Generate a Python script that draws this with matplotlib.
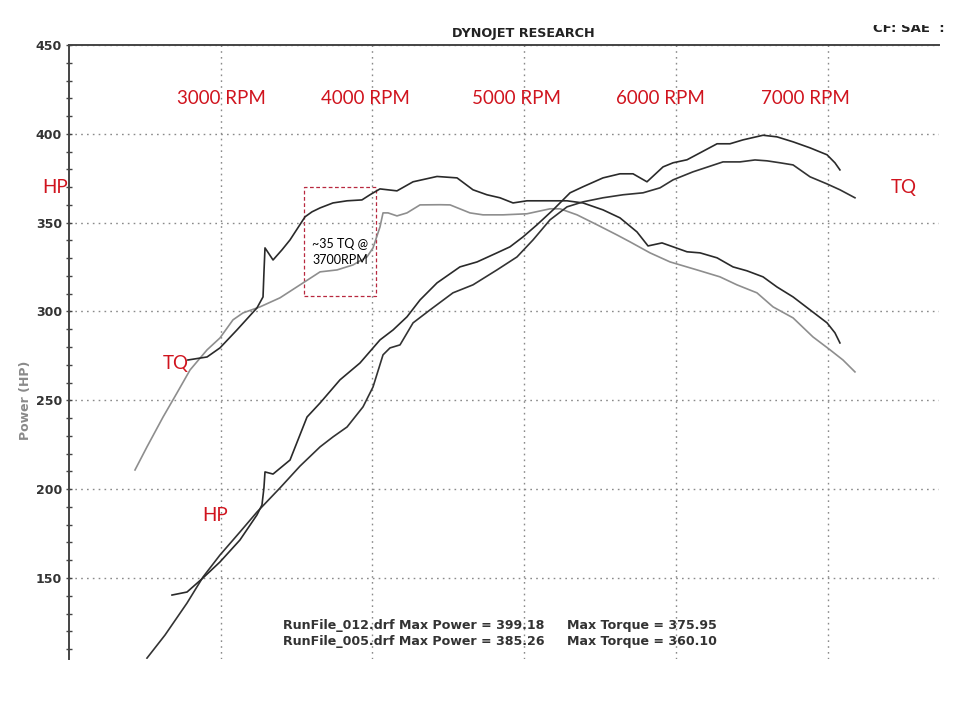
import numpy as np
import matplotlib
matplotlib.use('Agg')
from matplotlib import pyplot as plt
from matplotlib.patches import Rectangle
from matplotlib.transforms import Bbox, TransformedBbox

plt.rcParams.update({
  "font.family": 'DejaVu Sans',
  "axes.linewidth": 1.4,
  "axes.edgecolor": '#444444',
})

# RunFile_012 (black) torque
rpm_tq_012 = [2784, 2910, 2995, 3107, 3239, 3279, 3285, 3292, 3345, 3404, 3457, 3556,
              3602, 3655, 3740, 3833, 3931, 3984, 4050, 4162, 4268, 4426, 4558, 4663,
              4755, 4841, 4927, 5019, 5151, 5283, 5388, 5520, 5632, 5744, 5817, 5909,
              5982, 6074, 6160, 6272, 6377, 6469, 6575, 6667, 6773, 6885, 6997, 7049, 7082]
tq_012 = [272.7, 274.4, 279.5, 289.6, 302.0, 308.2, 321.7, 335.8, 329.0, 334.7, 340.3, 353.3,
          356.1, 358.3, 361.1, 362.3, 362.8, 365.7, 369.0, 367.9, 373.0, 376.0, 375.2, 368.5,
          365.7, 364.0, 361.1, 362.3, 362.3, 362.3, 361.1, 357.2, 352.7, 344.8, 336.9, 338.6,
          336.4, 333.6, 333.0, 330.2, 325.1, 322.9, 319.5, 313.8, 308.2, 300.9, 293.6, 288.0, 282.3]

# RunFile_005 (grey) torque
rpm_tq_005 = [2435, 2514, 2620, 2712, 2798, 2910, 2995, 3081, 3147, 3259, 3391, 3543,
              3655, 3767, 3872, 3964, 4004, 4050, 4070, 4103, 4162, 4228, 4314, 4446,
              4512, 4643, 4729, 4861, 5019, 5171, 5237, 5349, 5481, 5612, 5698, 5830,
              5962, 6140, 6291, 6403, 6535, 6641, 6773, 6904, 7017, 7102, 7181]
tq_005 = [210.8, 223.8, 240.6, 254.2, 267.1, 278.4, 285.1, 295.3, 299.2, 302.6, 307.7, 316.1,
          322.3, 323.4, 326.2, 330.7, 335.8, 347.6, 355.5, 355.5, 353.8, 355.5, 360.0, 360.1,
          360.0, 355.5, 354.4, 354.4, 355.0, 357.8, 357.8, 354.4, 348.8, 343.1, 339.2, 333.0,
          327.9, 323.4, 319.5, 315.0, 310.5, 302.6, 296.4, 285.7, 278.4, 272.7, 266.0]

# RunFile_012 power
rpm_hp_012 = [2679, 2778, 2883, 2995, 3127, 3239, 3272, 3285, 3292, 3345, 3457, 3569,
              3655, 3786, 3918, 4050, 4136, 4228, 4314, 4426, 4577, 4690, 4821, 4907,
              4993, 5085, 5191, 5303, 5388, 5520, 5632, 5718, 5810, 5916, 5982, 6074,
              6160, 6272, 6357, 6443, 6575, 6667, 6773, 6885, 6997, 7049, 7082]
hp_012 = [140.4, 142.1, 150.0, 159.0, 171.4, 185.5, 191.1, 200.7, 209.7, 208.5, 216.4, 240.6,
          248.5, 261.5, 271.0, 284.0, 289.6, 297.0, 306.5, 316.1, 325.1, 327.9, 333.0, 336.4,
          342.0, 348.8, 357.2, 366.8, 370.2, 375.2, 377.5, 377.5, 373.0, 381.4, 383.7, 385.4,
          389.3, 394.4, 394.4, 396.6, 399.2, 398.3, 395.5, 392.1, 388.2, 383.7, 379.7]

# RunFile_005 power
rpm_hp_005 = [2514, 2633, 2778, 2883, 2995, 3127, 3239, 3391, 3523, 3655, 3740, 3833,
              3938, 4004, 4070, 4116, 4182, 4268, 4380, 4531, 4663, 4821, 4953, 5059,
              5171, 5283, 5388, 5520, 5652, 5784, 5896, 5982, 6113, 6311, 6423, 6522,
              6601, 6687, 6773, 6885, 6997, 7082, 7181]
hp_005 = [104.9, 117.9, 135.9, 150.5, 162.9, 175.9, 187.1, 200.7, 213.0, 223.8, 229.4, 235.0,
          246.3, 257.5, 275.6, 279.5, 281.2, 293.6, 300.9, 310.5, 315.0, 323.4, 330.7, 340.3,
          351.6, 358.9, 361.7, 364.0, 365.7, 366.8, 369.6, 374.1, 378.6, 384.2, 384.2, 385.3,
          384.8, 383.7, 382.5, 375.8, 371.8, 368.5, 364.0]

rpm_marks = ["3000 RPM", "4000 RPM", "5000 RPM", "6000 RPM", "7000 RPM"]
rpm_mark_x = [3005, 3951, 4953, 5902, 6855]

summary_left = ["RunFile_012.drf Max Power = 399.18", "RunFile_005.drf Max Power = 385.26"]
summary_right = ["Max Torque = 375.95", "Max Torque = 360.10"]

red = '#d0141e'

fig = plt.figure(figsize=(9.6, 7.2), dpi=100)
ax = fig.add_axes([69/960, 61/720, 870/960, 614/720])

ax.set_xlim(2000, 7735)
ax.set_ylim(104.4, 450)

for s in ['right', 'bottom']:
    ax.spines[s].set_visible(False)

ax.set_yticks(np.arange(150, 451, 50))
ax.set_yticks(np.arange(110, 451, 10), minor=True)
ax.set_xticks(np.arange(3000, 7001, 1000))
ax.tick_params(axis='x', length=0, labelbottom=False)
ax.tick_params(axis='y', which='both', direction='inout', length=5, width=1,
               color='#444444', pad=2.5)
for lab in ax.get_yticklabels():
    lab.set_fontweight('bold')
    lab.set_fontsize(9)
    lab.set_color('#333333')

ax.grid(True, which='major', linestyle=(0, (1.2, 3)), linewidth=1.0, color='#8a8a8a')

ax.plot(rpm_tq_005, tq_005, color='#8e8e8e', lw=1.2)
ax.plot(rpm_tq_012, tq_012, color='#2a2a2a', lw=1.2)
ax.plot(rpm_hp_005, hp_005, color='#333333', lw=1.2)
ax.plot(rpm_hp_012, hp_012, color='#2a2a2a', lw=1.2)

# red notes
for lab, x in zip(rpm_marks, rpm_mark_x):
    ax.text(x, 419.7, lab, color=red, fontsize=13.5, family='Lato', ha='center', va='center')
ax.text(1911, 369.6, "HP", color=red, fontsize=13.5, family='Lato', ha='center', va='center')
ax.text(7501, 369.6, "TQ", color=red, fontsize=13.5, family='Lato', ha='center', va='center')
ax.text(2702, 271.0, "TQ", color=red, fontsize=13.5, family='Lato', ha='center', va='center')
ax.text(2966, 184.9, "HP", color=red, fontsize=13.5, family='Lato', ha='center', va='center')

ax.add_patch(Rectangle((3549, 308.8), 475, 61.4, fill=False, edgecolor='#b8283f',
                       lw=0.9, linestyle=(0, (3, 2))))
ax.text(3786, 338.1, "~35 TQ @", fontsize=9, family='Lato', ha='center', va='center')
ax.text(3786, 329.0, "3700RPM", fontsize=9, family='Lato', ha='center', va='center')

for i in range(2):
    ax.text(3411, 123.0 - 8.5*i, summary_left[i], fontsize=9.1, fontweight='bold',
            color='#333333', va='center')
    ax.text(5283, 123.0 - 8.5*i, summary_right[i], fontsize=9.1, fontweight='bold',
            color='#333333', va='center')

fig.text(523/960, 1 - 33/720, "DYNOJET RESEARCH", fontsize=9.2, fontweight='bold',
         color='#222222', ha='center', va='center')

cf = fig.text(873/960, 1 - 32/720, "CF: SAE  :", fontsize=9.5, fontweight='bold',
              color='#222222', ha='left', va='baseline')
cf.set_clip_box(TransformedBbox(Bbox([[0, 0], [1, 1 - 25/720]]), fig.transFigure))
cf.set_clip_on(True)

fig.text(26/960, 1 - 400/720, "Power (HP)", fontsize=9, fontweight='bold',
         color='#8a8a8a', rotation=90, ha='center', va='center')

fig.savefig('out.png', dpi=100, facecolor='white')
